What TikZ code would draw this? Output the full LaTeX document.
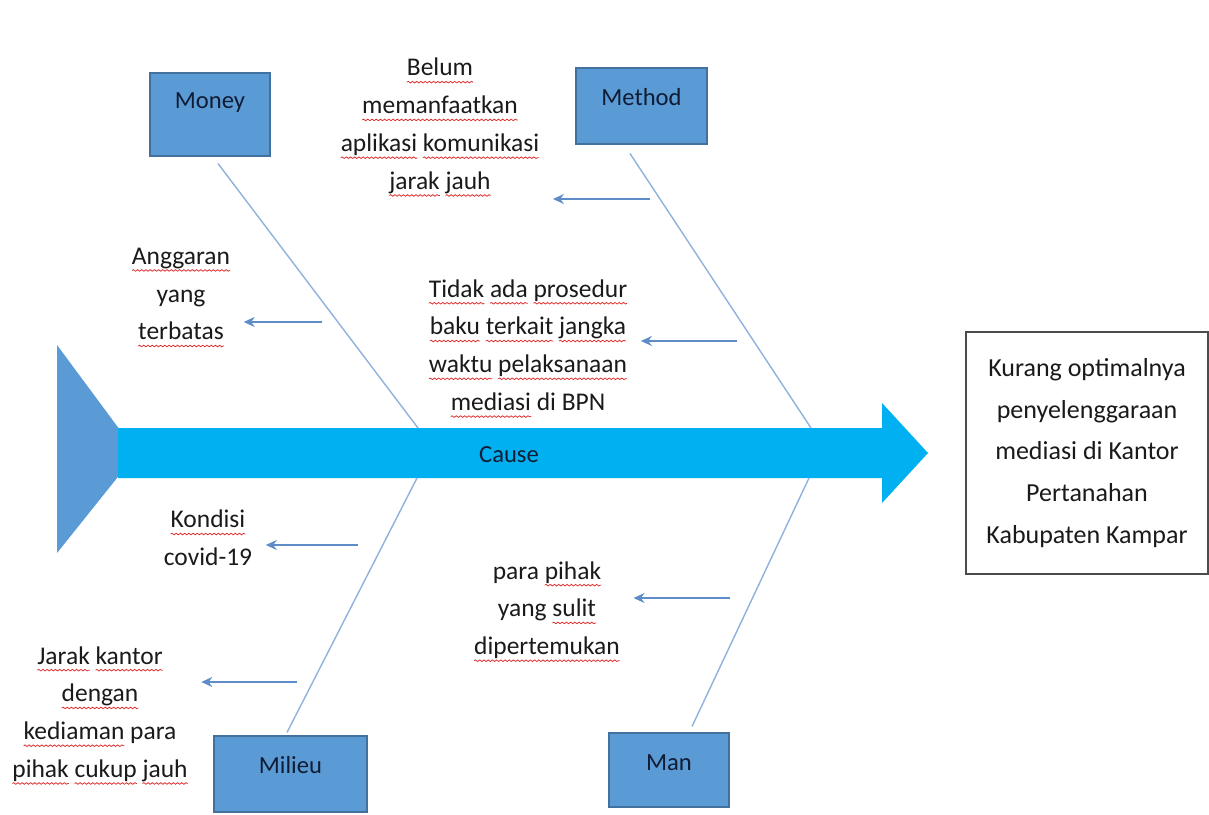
\documentclass[tikz,border=0pt]{standalone}
\usepackage{fontspec}
\setmainfont{Carlito}
\usetikzlibrary{arrows.meta, positioning, calc, decorations.pathmorphing}
\definecolor{mBox}{HTML}{5B9BD5}
\definecolor{mBoxLine}{HTML}{41719C}
\definecolor{mSpine}{HTML}{00B0F0}
\definecolor{mBone}{HTML}{8FB2DC}
\definecolor{mArrow}{HTML}{5E8CC8}
\definecolor{mDark}{HTML}{0F1C33}
\definecolor{mText}{HTML}{1A1A1A}
\definecolor{mSpell}{HTML}{E03030}
\newsavebox\wavebox
\newcommand\redwave[1]{\sbox\wavebox{#1}\tikz[overlay, x=1cm, y=1cm]\draw[mSpell, line width=0.45pt, decorate, decoration={snake, amplitude=0.45pt, segment length=2.4pt}] (0,-3.5pt) -- (\wd\wavebox,-3.5pt);\usebox\wavebox}
\tikzset{
  catbox/.style={draw=mBoxLine, fill=mBox, line width=0.6pt},
  catlabel/.style={text=mDark, font=\fontsize{14}{17}\selectfont},
  causetext/.style={text=mText, align=center, font=\fontsize{14.5}{21.5}\selectfont},
  effect/.style={draw=black!70, fill=white, line width=0.8pt, text=mText, align=center,
    minimum width=4.84cm, minimum height=4.84cm, font=\fontsize{14.8}{23.8}\selectfont},
  bone/.style={mBone, line width=0.8pt},
  causearrow/.style={-{Stealth[length=2.2mm, width=2mm]}, mArrow, line width=0.9pt, shorten >=0.15cm},
}

\begin{document}
\begin{tikzpicture}[x=0.02cm, y=-0.02cm]
  \useasboundingbox (0,0) rectangle (1209,814);
  % spine
  \fill[mBox] (57,345) -- (137,453) -- (57,553) -- cycle;
  \fill[mSpine] (118,428) -- (882,428) -- (882,403) -- (928,453) -- (882,503) -- (882,478) -- (118,478) -- cycle;
  \node[catlabel] (cause) at (509,455) {Cause};
  \coordinate (moneyJoin) at (418,428);
  \coordinate (methodJoin) at (811,428);
  \coordinate (milieuJoin) at (417,478);
  \coordinate (manJoin) at (809,478);
  % categories
  \node[catbox, minimum width=2.4cm, minimum height=1.66cm] (money) at (210,114.5) {};
  \node[catlabel] (moneyLbl) at (210,103) {Money};
  \node[catbox, minimum width=2.62cm, minimum height=1.52cm] (method) at (641.5,106) {};
  \node[catlabel] (methodLbl) at (641.5,97) {Method};
  \node[catbox, minimum width=3.06cm, minimum height=1.52cm] (milieu) at (290.5,774) {};
  \node[catlabel] (milieuLbl) at (290.5,765) {Milieu};
  \node[catbox, minimum width=2.4cm, minimum height=1.48cm] (man) at (669,770) {};
  \node[catlabel] (manLbl) at (669,763) {Man};
  % bones
  \draw[bone] ($(money.south)+(8,7)$) -- (moneyJoin);
  \draw[bone] ($(method.south)+(-11.5,9)$) -- (methodJoin);
  \draw[bone] ($(milieu.north)+(-3.5,-3)$) -- (milieuJoin);
  \draw[bone] ($(man.north)+(23,-6)$) -- (manJoin);
  % causes
  \node[causetext] (anggaran) at (181,294) {\redwave{Anggaran}\\yang\\\redwave{terbatas}};
  \node[causetext] (belum) at (440,126) {\redwave{Belum}\\\redwave{memanfaatkan}\\\redwave{aplikasi} \redwave{komunikasi}\\\redwave{jarak} \redwave{jauh}};
  \node[causetext] (tidak) at (528,345) {\redwave{Tidak} \redwave{ada} \redwave{prosedur}\\\redwave{baku} \redwave{terkait} \redwave{jangka}\\\redwave{waktu} \redwave{pelaksanaan}\\\redwave{mediasi} di BPN};
  \node[causetext] (kondisi) at (208,538) {\redwave{Kondisi}\\covid-19};
  \node[causetext] (jarak) at (100,714) {\redwave{Jarak} \redwave{kantor}\\\redwave{dengan}\\\redwave{kediaman} para\\\redwave{pihak} \redwave{cukup} \redwave{jauh}};
  \node[causetext] (para) at (547,610) {para \redwave{pihak}\\yang \redwave{sulit}\\\redwave{dipertemukan}};
  \foreach \n/\x/\y in {anggaran/322/322, belum/650/199, tidak/737/341, kondisi/358/545, jarak/297/682, para/730/598} {
    \coordinate (\n-tail) at (\x,\y);
    \draw[causearrow] (\n-tail) -- (\n.east |- \n-tail);
  }
  % effect
  \node[effect] (effect) at (1087,453) {Kurang optimalnya\\penyelenggaraan\\mediasi di Kantor\\Pertanahan\\Kabupaten Kampar};
\end{tikzpicture}
\end{document}
